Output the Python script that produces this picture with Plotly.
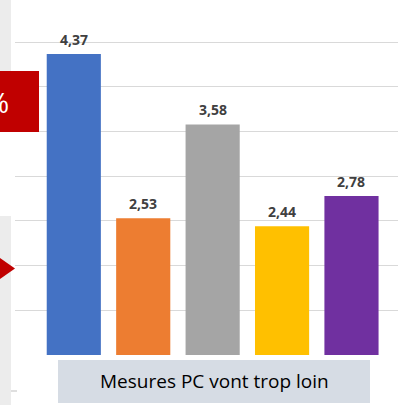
import plotly.graph_objects as go

# Chart data
categories = ["A", "B", "C", "D", "E"]
values = [4.37, 2.53, 3.58, 2.44, 2.78]
bar_colors = ["#4472c4", "#ed7d31", "#a5a5a5", "#ffc000", "#7030a0"]
caption = "Mesures PC vont trop loin"
side_label = "%"
partial_label = "1,57"

W, H = 398, 405
ML, MR, MT, MB = 15, 0, 0, 50
PW, PH = W - ML - MR, H - MT - MB


def px(x):
    """Pixel x -> paper x."""
    return (x - ML) / PW


def py(y):
    """Pixel y (from top) -> paper y."""
    return (H - MB - y) / PH


xpos = list(range(len(categories)))

fig = go.Figure(
    go.Bar(
        x=xpos,
        y=values,
        marker=dict(color=bar_colors, line=dict(width=0)),
        width=0.78,
        hoverinfo="skip",
    )
)

# value labels above the bars
for xi, v in zip(xpos, values):
    fig.add_annotation(
        x=xi, y=v, xref="x", yref="y",
        text=f"{v:.2f}".replace(".", ","),
        showarrow=False, yanchor="bottom", yshift=3,
        font=dict(family="Open Sans", size=14, color="#404040", weight="bold"),
    )

shapes = [
    # grey side panel strips
    dict(type="rect", xref="paper", yref="paper", x0=px(0), x1=px(11), y0=py(71), y1=py(0),
         fillcolor="#ececec", line=dict(width=0), layer="above"),
    dict(type="rect", xref="paper", yref="paper", x0=px(0), x1=px(11), y0=py(405), y1=py(216),
         fillcolor="#ececec", line=dict(width=0), layer="above"),
    # red side box
    dict(type="rect", xref="paper", yref="paper", x0=px(0), x1=px(39), y0=py(132), y1=py(71),
         fillcolor="#c00000", line=dict(width=0), layer="above"),
    # red arrow head
    dict(type="path", xref="paper", yref="paper",
         path=f"M {px(0)} {py(258)} L {px(15)} {py(268.5)} L {px(0)} {py(279)} Z",
         fillcolor="#c00000", line=dict(width=0), layer="above"),
    # small tick mark
    dict(type="line", xref="paper", yref="paper", x0=px(11), x1=px(17), y0=py(391), y1=py(391),
         line=dict(color="#bfbfbf", width=1), layer="above"),
    # caption box
    dict(type="rect", xref="paper", yref="paper", x0=px(58), x1=px(370), y0=py(403), y1=py(360),
         fillcolor="#d6dce4", line=dict(width=0), layer="above"),
]

fig.add_annotation(
    xref="paper", yref="paper", x=px(214), y=py(381.5),
    text=caption, showarrow=False, xanchor="center", yanchor="middle",
    font=dict(family="Open Sans", size=19, color="#000000"),
)
fig.add_annotation(
    xref="paper", yref="paper", x=px(11), y=py(102),
    text=side_label, showarrow=False, xanchor="right", yanchor="middle",
    font=dict(family="Open Sans", size=28, color="#ffffff"),
)
fig.add_annotation(
    xref="paper", yref="paper", x=px(66), y=py(403), yanchor="top", xanchor="left",
    text=partial_label, showarrow=False,
    font=dict(family="Open Sans", size=13, color="#404040", weight="bold"),
)

fig.update_layout(
    width=W, height=H,
    margin=dict(l=ML, r=MR, t=MT, b=MB),
    paper_bgcolor="#ffffff", plot_bgcolor="#ffffff",
    showlegend=False,
    shapes=shapes,
    xaxis=dict(range=[-0.847, 4.67], showgrid=False, showticklabels=False,
               zeroline=False, showline=False, ticks=""),
    yaxis=dict(range=[1, 4.973], tick0=1, dtick=0.5, showgrid=True,
               gridcolor="#d9d9d9", gridwidth=1, showticklabels=False,
               zeroline=False, showline=False, ticks=""),
    bargap=0.22,
)

fig.write_html("out.html", config={"displayModeBar": False})
